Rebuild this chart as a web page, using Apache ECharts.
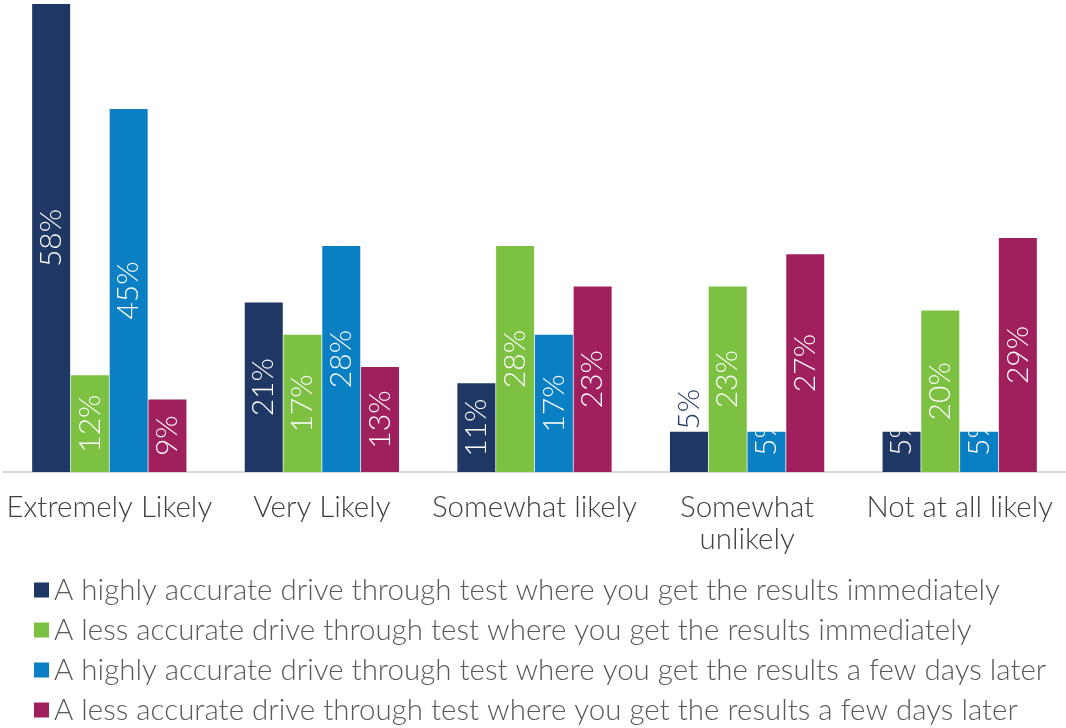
<!DOCTYPE html>
<html>
<head>
<meta charset="utf-8">
<script src="https://cdn.jsdelivr.net/npm/echarts@6/dist/echarts.min.js"></script>
<style>
  html, body { margin: 0; padding: 0; background: #fff; }
  #chart { width: 1066px; height: 728px; }
</style>
</head>
<body>
<div id="chart"></div>
<script>
const categories = ['Extremely Likely', 'Very Likely', 'Somewhat likely', 'Somewhat\nunlikely', 'Not at all likely'];
const seriesNames = [
  'A highly accurate drive through test where you get the results immediately',
  'A less accurate drive through test where you get the results immediately',
  'A highly accurate drive through test where you get the results a few days later',
  'A less accurate drive through test where you get the results a few days later'
];
const highImmediate = [58, 21, 11, 5, 5];
const lessImmediate = [12, 17, 28, 23, 20];
const highLater = [45, 28, 17, 5, 5];
const lessLater = [9, 13, 23, 27, 29];
const colors = ['#1f3764', '#7cc142', '#0a7fc4', '#a01f5d'];

const font = 'Lato, "Open Sans", sans-serif';

function makeData(values) {
  return values.map(function (v) {
    if (v > 6) return v;
    // small bars: text starts near the bottom and runs out of the bar (white on white)
    return { value: v, label: { position: 'insideBottom', align: 'left', verticalAlign: 'middle', distance: 16 } };
  });
}

const allValues = [highImmediate, lessImmediate, highLater, lessLater];
const seriesData = allValues.map(function (values, i) {
  const data = makeData(values);
  if (i === 0) {
    // dark label sits on top of the "Somewhat unlikely" bar
    data[3] = { value: values[3], label: { position: 'top', align: 'left', verticalAlign: 'middle', distance: 2, color: colors[0] } };
  }
  return {
    name: seriesNames[i],
    type: 'bar',
    barWidth: 38,
    barGap: '2%',
    itemStyle: { color: colors[i] },
    label: {
      show: true,
      position: 'inside',
      rotate: 90,
      color: '#fff',
      fontFamily: font,
      fontWeight: 300,
      fontSize: 30,
      formatter: '{c}%'
    },
    data: data
  };
});

const chart = echarts.init(document.getElementById('chart'));
chart.setOption({
  animation: false,
  color: colors,
  grid: { left: 3, right: 0, top: 4, bottom: 256, containLabel: false },
  legend: {
    orient: 'vertical',
    left: 29,
    top: 570,
    height: 158,
    itemWidth: 15,
    itemHeight: 15,
    itemGap: 10,
    icon: 'rect',
    textStyle: { fontFamily: font, fontWeight: 300, fontSize: 29.5, lineHeight: 30, color: '#595959' },
    data: seriesNames
  },
  xAxis: {
    type: 'category',
    data: categories,
    axisLine: { show: true, lineStyle: { color: '#d9d9d9', width: 2 } },
    axisTick: { show: false },
    axisLabel: {
      margin: 19,
      interval: 0,
      fontFamily: font,
      fontWeight: 300,
      fontSize: 29.5,
      lineHeight: 32,
      color: '#404040'
    }
  },
  yAxis: {
    type: 'value',
    min: 0,
    max: 58,
    show: false,
    splitLine: { show: false }
  },
  series: seriesData
});
</script>
</body>
</html>
